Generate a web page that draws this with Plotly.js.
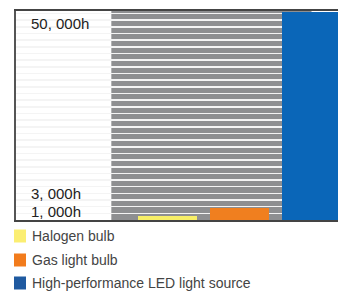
<!DOCTYPE html>
<html>
<head>
<meta charset="utf-8">
<script src="https://cdn.plot.ly/plotly-3.0.1.min.js"></script>
<style>html,body{margin:0;padding:0;background:#fff;}#chart{width:338px;height:292px;}</style>
</head>
<body>
<div id="chart"></div>
<script>
// Data
const categories = ["Halogen bulb", "Gas light bulb", "High-performance LED light source"];
const lifetimeHours = [1000, 3000, 50000];
const tickLabels = ["1, 000h", "3, 000h", "50, 000h"];
const barColors = ["#f6ee67", "#f07f1f", "#0a66b8"];
const legendColors = ["#fbee72", "#f27c1c", "#1f5aa0"];

// Layout geometry (pixels)
const W = 338, H = 292;
const M = {l: 16, r: 0, t: 11, b: 72};
const PW = W - M.l - M.r, PH = H - M.t - M.b;
const px = x => (x - M.l) / PW;
const py = y => (H - M.b - y) / PH;

const trace = {
  type: "bar",
  x: [0, 1, 2],
  y: lifetimeHours,
  width: 0.81,
  marker: {color: barColors, line: {width: 0}},
  text: categories,
  textposition: "none",
  hoverinfo: "text+y",
  showlegend: false
};

const shapes = [
  {type: "rect", layer: "below", xref: "x", yref: "paper", x0: -0.78, x1: 2, y0: 0, y1: 1,
   fillcolor: "#8e8f91", line: {width: 0}}
];
const annotations = [];

// y labels
const labelShift = [4, 14, 0];
tickLabels.forEach((t, i) => {
  annotations.push({
    xref: "paper", yref: "y", x: px(29), y: lifetimeHours[i],
    xanchor: "left", yanchor: i === 2 ? "top" : "middle", yshift: i === 2 ? -1 : labelShift[i],
    text: t, showarrow: false,
    font: {family: "Liberation Sans, Arial, sans-serif", size: 15, color: "#222"}
  });
});

// legend
const legendRows = [236, 260, 283];
categories.forEach((c, i) => {
  const cy = legendRows[i];
  shapes.push({type: "rect", xref: "paper", yref: "paper",
    x0: px(14), x1: px(26), y0: py(cy + 6.5), y1: py(cy - 6.5),
    fillcolor: legendColors[i], line: {width: 0}});
  annotations.push({xref: "paper", yref: "paper", x: px(30), y: py(cy),
    xanchor: "left", yanchor: "middle", text: c, showarrow: false,
    font: {family: "Liberation Sans, Arial, sans-serif", size: 14, color: "#444"}});
});

const layout = {
  width: W, height: H,
  margin: M,
  paper_bgcolor: "#fff", plot_bgcolor: "#fff",
  showlegend: false,
  xaxis: {range: [-2.104, 2.368], showgrid: false, zeroline: false, showticklabels: false,
    ticks: "", showline: true, linecolor: "#444", linewidth: 2, mirror: true, fixedrange: true},
  yaxis: {range: [0, 50200], showgrid: true, gridcolor: "#f4f4f4", gridwidth: 1.6, dtick: 1600,
    zeroline: false, showticklabels: false, ticks: "", showline: true, linecolor: "#555",
    linewidth: 2, mirror: false, fixedrange: true},
  shapes: shapes,
  annotations: annotations,
  bargap: 0
};

Plotly.newPlot("chart", [trace], layout, {displayModeBar: false, staticPlot: true});
</script>
</body>
</html>
